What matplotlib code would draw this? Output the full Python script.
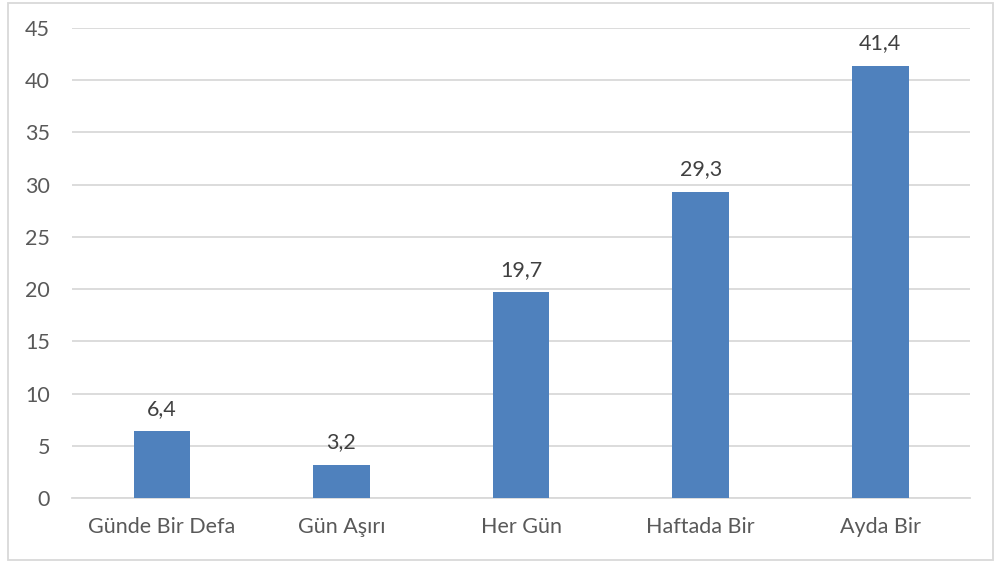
import matplotlib
matplotlib.use('Agg')
import matplotlib.pyplot as plt
from matplotlib.patches import Rectangle

# data
categories = ['Günde Bir Defa', 'Gün Aşırı', 'Her Gün', 'Haftada Bir', 'Ayda Bir']
values = [6.4, 3.2, 19.7, 29.3, 41.4]
yticks = [0, 5, 10, 15, 20, 25, 30, 35, 40, 45]

plt.rcParams['font.family'] = ['Lato', 'DejaVu Sans']

fig = plt.figure(figsize=[9.96, 5.63], dpi=100)
ax = fig.add_axes([0.0723, 0.1155, 0.9017, 0.8348])

x = range(len(categories))
ax.bar(x, values, width=0.315, color='#4F81BD', zorder=3)
for i, v in zip(x, values):
    ax.annotate(('%.1f' % v).replace('.', ','), (i, v), xytext=(0, 9),
                textcoords='offset points', ha='center', va='bottom',
                fontsize=15.5, color='#404040')

ax.set_xlim(-0.5, len(categories) - 0.5)
ax.set_ylim(0, 45)
ax.set_yticks(yticks)
ax.set_xticks(list(x))
ax.set_xticklabels(categories)
ax.tick_params(axis='both', length=0, labelsize=15.5, colors='#595959')
ax.tick_params(axis='y', pad=16)
ax.tick_params(axis='x', pad=14)
ax.grid(axis='y', color='#D9D9D9', linewidth=1.3, zorder=0)
for s in ['top', 'right', 'left']:
    ax.spines[s].set_visible(False)
ax.spines['bottom'].set_color('#D9D9D9')
ax.spines['bottom'].set_linewidth(1.3)

# outer chart border
fig.patches.append(Rectangle((8 / 996, 3 / 563), 985 / 996, 557 / 563,
                             transform=fig.transFigure, fill=False,
                             edgecolor='#D9D9D9', linewidth=1.3))

fig.savefig('out.png', dpi=100)
plt.close()
